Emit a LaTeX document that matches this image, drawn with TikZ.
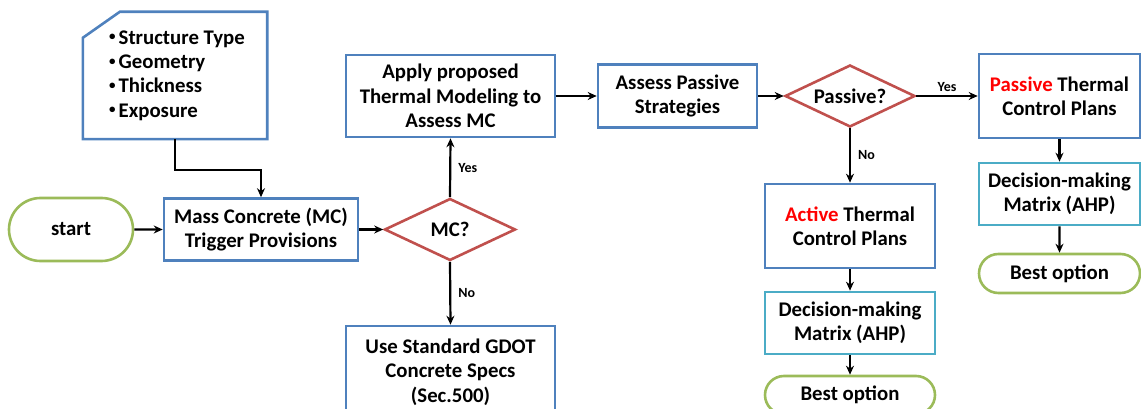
\documentclass[tikz,border=0pt]{standalone}
\usepackage{fontspec}
\setmainfont{Carlito}
\usetikzlibrary{arrows.meta,shapes.geometric,shapes.misc,positioning}
\definecolor{boxblue}{HTML}{4F81BD}
\definecolor{diared}{HTML}{C0504D}
\definecolor{termgreen}{HTML}{9BBB59}
\definecolor{matcyan}{HTML}{4BACC6}
\newcommand{\dotitem}{\raisebox{3.5pt}{\fontsize{13}{13}\selectfont\textbullet}\hspace{3pt}}
\tikzset{
  every node/.style={font=\fontsize{20.8}{24.3}\selectfont\bfseries, align=center, inner sep=0pt},
  procbox/.style 2 args={draw=boxblue, line width=2.6pt, minimum width=#1, minimum height=#2},
  matbox/.style 2 args={draw=matcyan, line width=2.6pt, minimum width=#1, minimum height=#2},
  termbox/.style 2 args={rounded rectangle, draw=termgreen, line width=2.6pt, minimum width=#1, minimum height=#2},
  decide/.style={diamond, draw=diared, line width=2.6pt, aspect=2.1, minimum width=131, minimum height=62},
  flow/.style={line width=2.2pt, -{Stealth[length=9pt,width=8pt]}},
  answer/.style={font=\fontsize{14}{16}\selectfont\bfseries}
}
\begin{document}
\begin{tikzpicture}[x=1pt,y=1pt]
        \clip (0,0) rectangle (1141,-409);
        %% Input card
        \node[minimum width=184, minimum height=127, align=left] (card) at (177,-75.5)
          {\dotitem Structure Type\\ \dotitem Geometry\\ \dotitem Thickness\\ \dotitem Exposure};
        \draw[boxblue, line width=2.6pt] ([xshift=-2,yshift=-26]card.north west) -- ([xshift=35]card.north west)
          -- ([xshift=-2]card.north east) -- ([xshift=-2]card.south east) -- ([xshift=-2]card.south west) -- cycle;
        %% Left part
        \node[termbox={124}{63}] (start) at (71,-229.5) {start};
        \node[procbox={194}{62}] (mcbox) at (261,-229.5) {Mass Concrete (MC)\\Trigger Provisions};
        \node[decide] (mcdia) at (450,-229.5) {MC?};
        \node[procbox={209}{82}] (apply) at (450.5,-96) {Apply proposed\\Thermal Modeling to\\Assess MC};
        \node[procbox={209}{92}] (gdot) at (450.5,-372) {Use Standard GDOT\\Concrete Specs\\(Sec.500)};
        \node[procbox={159}{63}] (assess) at (677.5,-96) {Assess Passive\\Strategies};
        \node[decide, minimum width=130] (pasdia) at (850,-96) {Passive?};
        %% Passive branch
        \node[procbox={161}{84}] (pasbox) at (1059.5,-96) {\textcolor{red}{Passive} Thermal\\Control Plans};
        \node[matbox={161}{62}] (pasmat) at (1059.5,-194) {Decision-making\\Matrix (AHP)};
        \node[termbox={161}{39}] (pasbest) at (1059.5,-273.5) {Best option};
        %% Active branch
        \node[procbox={170}{84}] (actbox) at (850,-226) {\textcolor{red}{Active} Thermal\\Control Plans};
        \node[matbox={170}{62}] (actmat) at (850,-323) {Decision-making\\Matrix (AHP)};
        \node[termbox={170}{38}] (actbest) at (850,-395) {Best option};
        %% Connectors
        \draw[flow] ([xshift=-2]card.south) -- ++(0,-31) -| (mcbox.north);
        \draw[flow] (start) -- (mcbox);
        \draw[flow] (mcbox) -- (mcdia);
        \draw[flow] (mcdia.north) -- (apply.south) node[answer, pos=0.5, right=7pt] {Yes};
        \draw[flow] (mcdia.south) -- (gdot.north) node[answer, pos=0.5, right=7pt] {No};
        \draw[flow] (apply) -- (assess);
        \draw[flow] (assess) -- (pasdia);
        \draw[flow] (pasdia.east) -- (pasbox.west) node[answer, pos=0.5, above=3pt] {Yes};
        \draw[flow] (pasdia.south) -- (actbox.north) node[answer, pos=0.5, right=7pt] {No};
        \draw[flow] (pasbox) -- (pasmat);
        \draw[flow] (pasmat) -- (pasbest);
        \draw[flow] (actbox) -- (actmat);
        \draw[flow] (actmat) -- (actbest);
    \end{tikzpicture}
\end{document}
